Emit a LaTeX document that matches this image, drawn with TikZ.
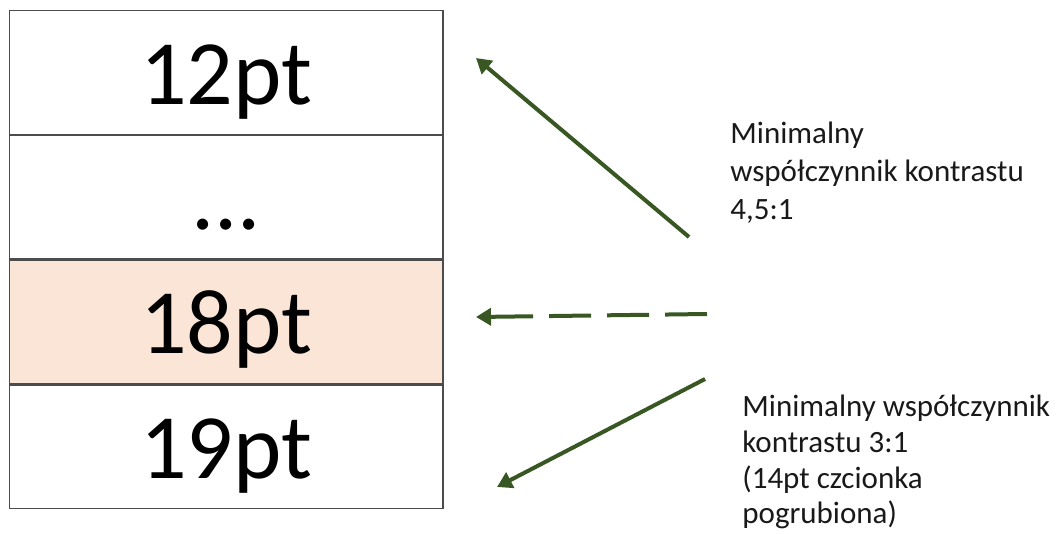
\documentclass[tikz,border=0pt]{standalone}
\usepackage{fontspec}
\setmainfont{Carlito}
\usetikzlibrary{arrows.meta}
\usetikzlibrary{positioning}

\definecolor{arrowgreen}{RGB}{56,87,35}
\definecolor{rowpeach}{RGB}{251,229,214}

\begin{document}
\begin{tikzpicture}[
        x=0.5pt, y=-0.5pt,
        sizerow/.style={rectangle,draw=black!70,line width=0.65pt,minimum width=216.75pt,minimum height=61.7pt,inner sep=0pt,font=\fontsize{46}{50}\selectfont,text height=32pt,text depth=0pt},
        note/.style={anchor=north west,align=left,inner sep=0pt,font=\fontsize{15.5}{19}\selectfont,text=black!90},
        ratio/.style={line width=2pt,arrowgreen,-{Triangle[length=7.5pt,width=8.5pt]}},
        ]
        \useasboundingbox (0,0) rectangle (1058,534);

        % column of font sizes
        \node[sizerow](r12) at (226.25,72.5){12pt};
        \node[sizerow,below=0pt of r12](rdots){...};
        \node[sizerow,below=0pt of rdots,fill=rowpeach](r18){18pt};
        \node[sizerow,below=0pt of r18](r19){19pt};

        \node[note](minA) at (730,122){Minimalny\\współczynnik kontrastu\\4,5:1};
        \node[note,font=\fontsize{15.5}{17.8}\selectfont](minB) at (742,395){Minimalny współczynnik\\kontrastu 3:1\\(14pt czcionka\\pogrubiona)};

        \coordinate (a1s) at (689,237);
        \coordinate (a1e) at (476,58);
        \coordinate (a2s) at (707,314);
        \coordinate (a2e) at (476,317);
        \coordinate (a3s) at (705,379);
        \coordinate (a3e) at (497,487);

        \draw[ratio] (a1s) -- (a1e);
        \draw[ratio,dash pattern=on 21pt off 8pt] (a2s) -- (a2e);
        \draw[ratio] (a3s) -- (a3e);
        % \draw[ratio] (minB.west) -- (r19.east);

\end{tikzpicture}
\end{document}
